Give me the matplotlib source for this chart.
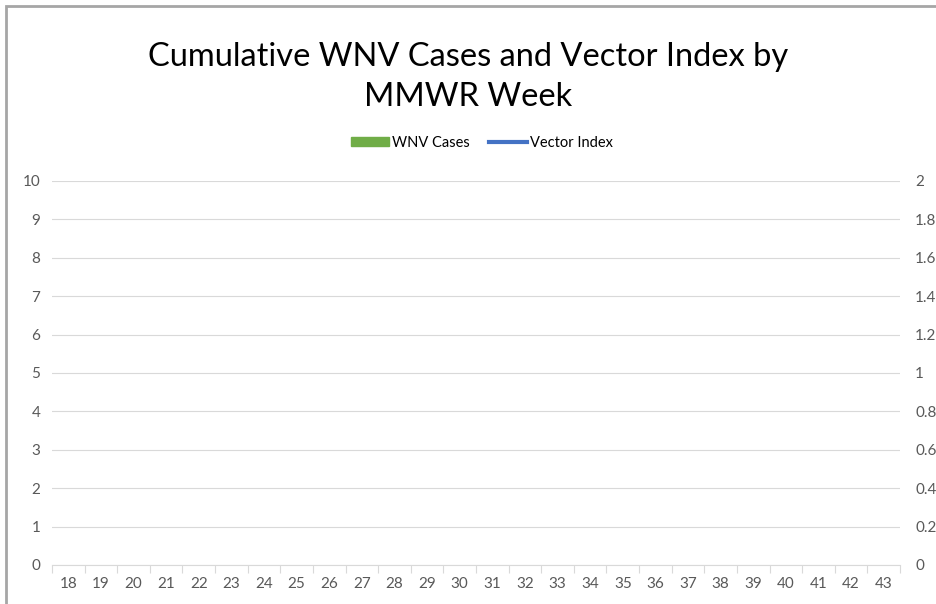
import numpy as np
import matplotlib
matplotlib.use("Agg")
import matplotlib.pyplot as plt
from matplotlib.patches import Rectangle, Patch
from matplotlib.lines import Line2D

weeks = list(range(18, 44))
wnv_cases = [0] * len(weeks)
vector_index = [np.nan] * len(weeks)
left_ticks = list(range(0, 11))
right_ticks = [0, 0.2, 0.4, 0.6, 0.8, 1, 1.2, 1.4, 1.6, 1.8, 2]
right_labels = ["0", "0.2", "0.4", "0.6", "0.8", "1", "1.2", "1.4", "1.6", "1.8", "2"]

plt.rcParams['font.family'] = ['Lato', 'DejaVu Sans']
W, H = 936, 604
fig = plt.figure(figsize=(W / 100, H / 100), dpi=100)

# chart border (cropped frame)
fig.patches.append(Rectangle((6 / W, -0.1), 1.2, (H - 6) / H + 0.1, transform=fig.transFigure,
                             fill=False, edgecolor='#a6a6a6', linewidth=2, zorder=0))

left, right, top, bottom = 52, 900, 181, 565
ax = fig.add_axes([left / W, 1 - bottom / H, (right - left) / W, (bottom - top) / H])
x = np.arange(len(weeks))
ax.bar(x, wnv_cases, width=0.6, color='#70ad47', label='WNV Cases')
ax.set_xlim(-0.5, len(weeks) - 0.5)
ax.set_ylim(0, 10)
ax.set_yticks(left_ticks)
ax.set_yticklabels([str(v) for v in left_ticks])
ax.grid(axis='y', color='#d9d9d9', linewidth=0.8)
ax.set_axisbelow(True)
for s in ['top', 'left', 'right']:
    ax.spines[s].set_visible(False)
ax.spines['bottom'].set_color('#d9d9d9')
ax.tick_params(axis='y', length=0, pad=8.5, labelsize=11, labelcolor='#595959')
ax.set_xticks(x)
ax.set_xticklabels([str(w) for w in weeks])
ax.tick_params(axis='x', which='major', length=0, pad=9, labelsize=11, labelcolor='#595959')
ax.set_xticks(np.arange(-0.5, len(weeks)), minor=True)
ax.tick_params(axis='x', which='minor', length=6, color='#d9d9d9', width=0.8)

ax2 = ax.twinx()
ax2.plot(x, vector_index, color='#4472c4', linewidth=2.5, label='Vector Index')
ax2.set_ylim(0, 2)
ax2.set_yticks(right_ticks)
ax2.set_yticklabels(right_labels)
for s in ['top', 'left', 'right', 'bottom']:
    ax2.spines[s].set_visible(False)
ax2.tick_params(axis='y', length=0, pad=11, labelsize=11, labelcolor='#595959')

fig.text(0.5, 1 - 57 / H, "Cumulative WNV Cases and Vector Index by", ha='center', va='center',
         fontsize=23.5, color='#000000')
fig.text(0.5, 1 - 97 / H, "MMWR Week", ha='center', va='center', fontsize=23.5, color='#000000')

handles = [Patch(color='#70ad47', label='WNV Cases'),
           Line2D([], [], color='#4472c4', linewidth=3, label='Vector Index')]
fig.legend(handles=handles, loc='center', bbox_to_anchor=(482 / W, 1 - 143 / H), ncol=2,
           frameon=False, fontsize=10.5, handlelength=2.6, handleheight=0.6, columnspacing=1.3,
           handletextpad=0.2, labelcolor='#000000')

fig.savefig("out.png", dpi=100)
